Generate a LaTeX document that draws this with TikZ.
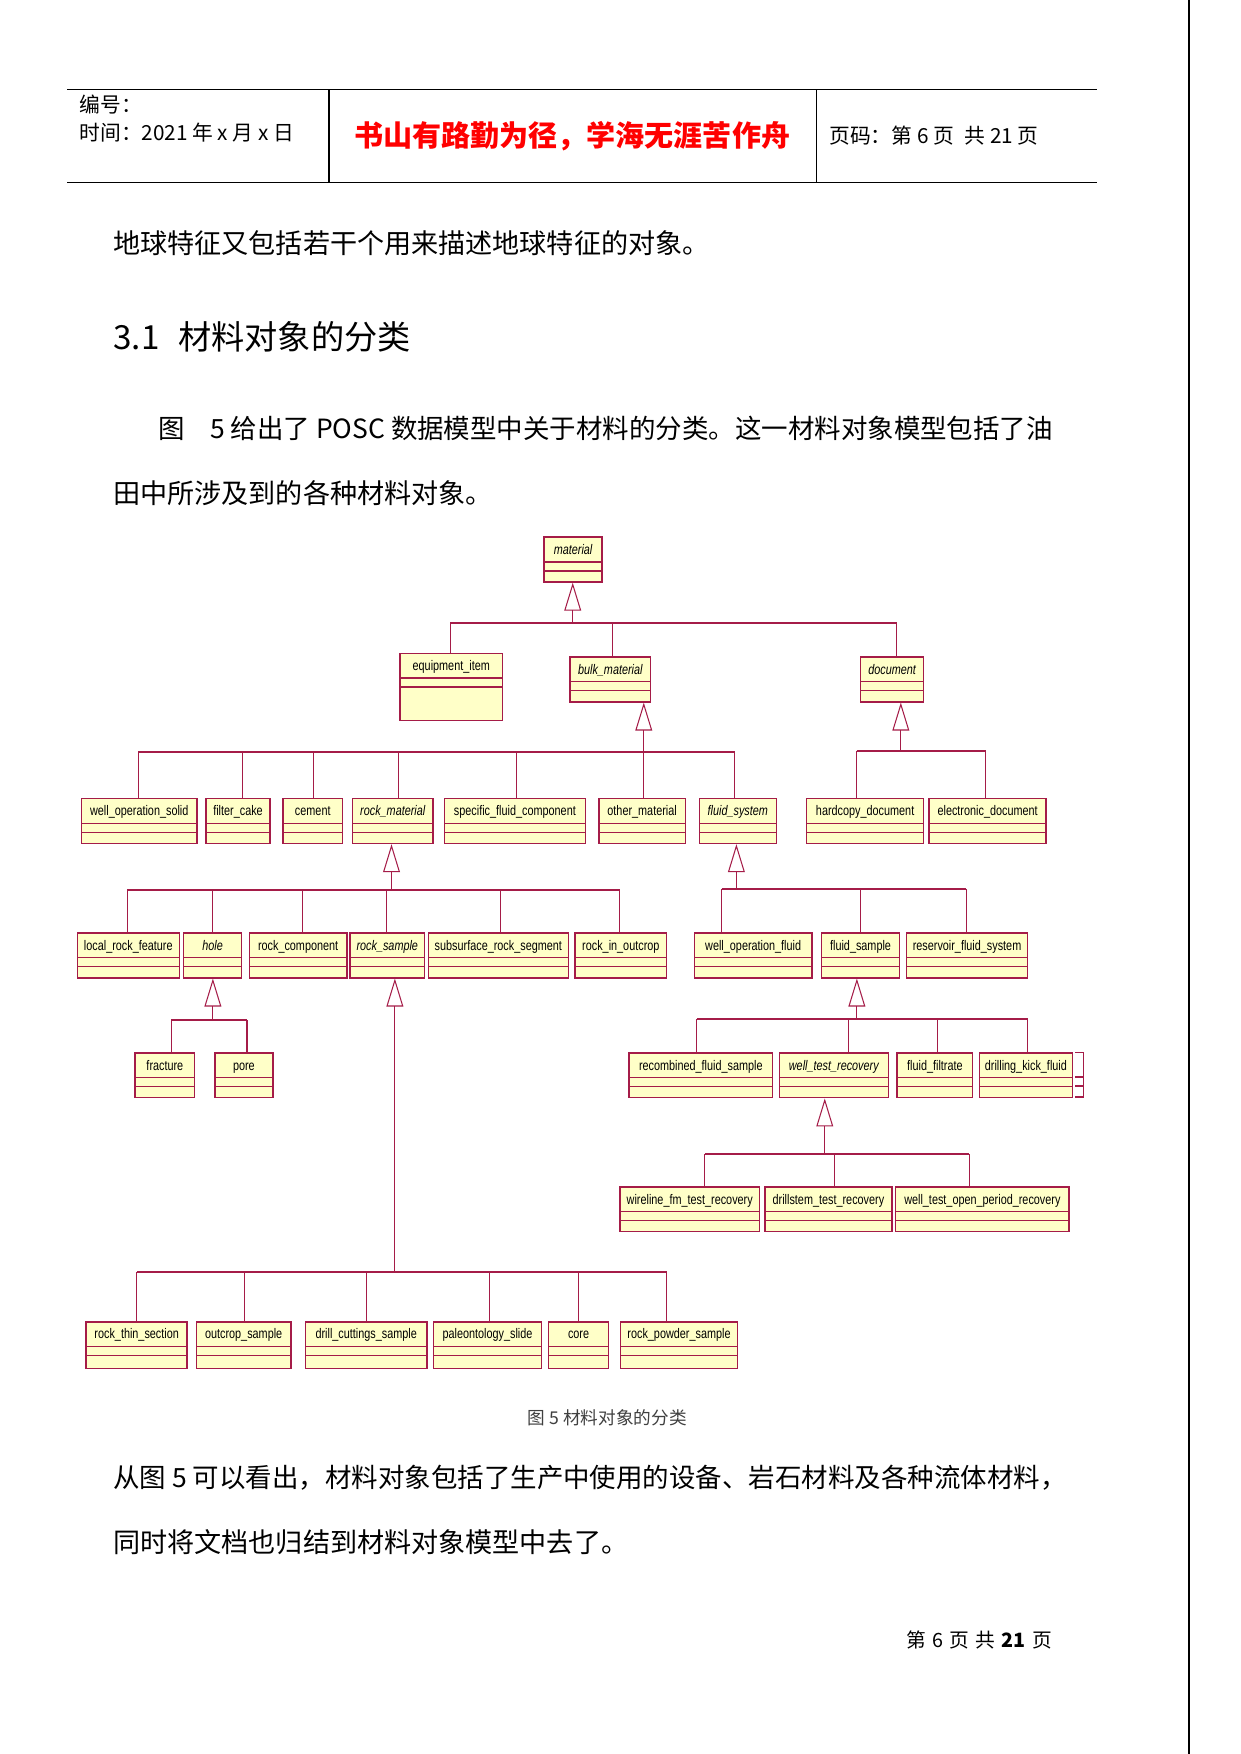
\documentclass[tikz,border=0pt]{standalone}
\usepackage{fontspec}
\usepackage{tikz}
\usetikzlibrary{arrows.meta, calc}

\newfontfamily\cjk{Noto Sans CJK SC}
\newfontfamily\umlfont[FakeStretch=0.78]{Liberation Sans}
\definecolor{umlred}{RGB}{165,28,72}
\definecolor{umlfill}{RGB}{255,255,200}
\newlength{\px}
\setlength{\px}{0.018929cm}

\begin{document}
\begin{tikzpicture}[
  x=\px, y=-\px,
  cls/.style = {draw=umlred, fill=umlfill, line width=0.7pt, anchor=north, inner sep=0pt,
    font=\umlfont\fontsize{6.7}{8}\selectfont, text height=8.2pt, text depth=13.34pt,
    path picture={\draw[umlred, line width=0.7pt]
      ($(path picture bounding box.north west)+(0,22)$) -- ($(path picture bounding box.north east)+(0,22)$)
      ($(path picture bounding box.north west)+(0,30)$) -- ($(path picture bounding box.north east)+(0,30)$);}},
  abstract/.style = {cls, font=\umlfont\itshape\fontsize{6.7}{8}\selectfont},
  tall/.style = {text depth=24.11pt},
  lowrow/.style = {text depth=14.13pt},
  bus/.style = {draw=umlred, line width=0.9pt},
  drop/.style = {draw=umlred, line width=0.5pt},
  gen/.style = {draw=umlred, line width=0.5pt, -{Triangle[open, length=0.473cm, width=0.284cm]}},
  body/.style = {anchor=west, inner sep=0pt, font=\cjk\fontsize{13.05}{15}\selectfont},
  mixed/.style = {body, font=\cjk\fontsize{12.75}{15}\selectfont},
  head/.style = {anchor=west, inner sep=0pt, font=\cjk\fontsize{10}{12}\selectfont}
]

  \fill[white] (0,0) rectangle (1109.4,1568);
  \useasboundingbox (0,0) rectangle (1109.4,1568);

  % page header
  \draw[line width=0.6pt] (60,79.8) -- (981,79.8) (60,163.2) -- (981,163.2)
    (294.2,79.8) -- (294.2,163.2) (730,79.8) -- (730,163.2);
  \draw[line width=1pt] (1062.6,0) -- (1062.6,1568);
  \node[head] (hno) at (70.7,93.8) {编号：};
  \node[head] (hdate) at (70.7,118.6) {时间：2021 年 x 月 x 日};
  \node[inner sep=0pt, text=red, font=\cjk\bfseries\fontsize{14}{16}\selectfont] (htitle) at (511.5,122.1) {书山有路勤为径，学海无涯苦作舟};
  \node[head] (hpage) at (741,121.6) {页码：第 6 页\hspace{3pt} 共 21 页};

  % text above the figure
  \node[body] (p1) at (101,217.4) {地球特征又包括若干个用来描述地球特征的对象。};
  \node[body, font=\cjk\fontsize{16}{19}\selectfont] (sec) at (101,301) {3.1\hspace{9pt}材料对象的分类};
  \node[mixed] (p2) at (141.5,382.7) {图\hspace{12pt}5 给出了 POSC 数据模型中关于材料的分类。这一材料对象模型包括了油};
  \node[body] (p3) at (101,440.9) {田中所涉及到的各种材料对象。};

  % classes
  \node[abstract, minimum width=52.1*\px] (mat) at (512.3,479.6) {material};

  \node[cls, tall, minimum width=91.6*\px] (eq) at (403.4,583.3) {equipment\_item};
  \node[abstract, minimum width=71.8*\px] (bm) at (545.6,586.8) {bulk\_material};
  \node[abstract, minimum width=56.3*\px] (doc) at (797.5,586.8) {document};

  \node[cls, minimum width=103.5*\px] (wos) at (124.5,713.4) {well\_operation\_solid};
  \node[cls, minimum width=57.5*\px] (fc) at (212.8,713.4) {filter\_cake};
  \node[cls, minimum width=53.2*\px] (cem) at (279.6,713.4) {cement};
  \node[abstract, minimum width=71.8*\px] (rm) at (351.1,713.4) {rock\_material};
  \node[cls, minimum width=126.3*\px] (sfc) at (460.3,713.4) {specific\_fluid\_component};
  \node[cls, minimum width=77.2*\px] (om) at (574,713.4) {other\_material};
  \node[abstract, minimum width=68.8*\px] (fs) at (659.6,713.4) {fluid\_system};
  \node[cls, minimum width=104.7*\px] (hd) at (773.4,713.4) {hardcopy\_document};
  \node[cls, minimum width=104.7*\px] (ed) at (882.9,713.4) {electronic\_document};

  \node[cls, minimum width=91.3*\px] (lrf) at (114.7,833.5) {local\_rock\_feature};
  \node[abstract, minimum width=52*\px] (hole) at (190,833.5) {hole};
  \node[cls, minimum width=87*\px] (rc) at (266.5,833.5) {rock\_component};
  \node[abstract, minimum width=66.4*\px] (rs) at (346.2,833.5) {rock\_sample};
  \node[cls, minimum width=125*\px] (srs) at (445.5,833.5) {subsurface\_rock\_segment};
  \node[cls, minimum width=82*\px] (rio) at (555,833.5) {rock\_in\_outcrop};
  \node[cls, minimum width=105.3*\px] (wof) at (673.3,833.5) {well\_operation\_fluid};
  \node[cls, minimum width=70*\px] (fsm) at (769.3,833.5) {fluid\_sample};
  \node[cls, minimum width=108.4*\px] (rfs) at (864.5,833.5) {reservoir\_fluid\_system};

  \node[cls, minimum width=53.2*\px] (fr) at (147.4,940.7) {fracture};
  \node[cls, minimum width=52*\px] (pore) at (218,940.7) {pore};
  \node[cls, minimum width=128.1*\px] (rfsm) at (626.5,940.7) {recombined\_fluid\_sample};
  \node[abstract, minimum width=97.6*\px] (wtr) at (745.4,940.7) {well\_test\_recovery};
  \node[cls, minimum width=67.6*\px] (ff) at (835.8,940.7) {fluid\_filtrate};
  \node[cls, minimum width=83.2*\px] (dkf) at (917.1,940.7) {drilling\_kick\_fluid};

  \node[cls, minimum width=125.1*\px] (wfm) at (616.6,1060.5) {wireline\_fm\_test\_recovery};
  \node[cls, minimum width=113.2*\px] (dst) at (740.6,1060.5) {drillstem\_test\_recovery};
  \node[cls, minimum width=155*\px] (wtop) at (878.2,1060.5) {well\_test\_open\_period\_recovery};

  \node[cls, lowrow, minimum width=90.3*\px] (rts) at (122.2,1181.1) {rock\_thin\_section};
  \node[cls, lowrow, minimum width=84.3*\px] (os) at (217.8,1181.1) {outcrop\_sample};
  \node[cls, lowrow, minimum width=108.3*\px] (dcs) at (327.4,1181.1) {drill\_cuttings\_sample};
  \node[cls, lowrow, minimum width=96.4*\px] (ps) at (435.8,1181.1) {paleontology\_slide};
  \node[cls, lowrow, minimum width=53.3*\px] (core) at (517.2,1181.1) {core};
  \node[cls, lowrow, minimum width=104.7*\px] (rps) at (607,1181.1) {rock\_powder\_sample};

  % loose bracket right of drilling_kick_fluid
  \draw[umlred, line width=0.7pt] ($(dkf.north east)+(2,0)$) -- ++(7,0) -- ++(0,40) -- ++(-7,0)
    ($(dkf.north east)+(2,22)$) -- ++(7,0) ($(dkf.north east)+(2,30)$) -- ++(7,0);

  % generalisation joints
  \coordinate (matj) at (512,557.1);
  \coordinate (bmj) at (575.5,672.6);
  \coordinate (docj) at (805.3,671.1);
  \coordinate (rmj) at (350,795.4);
  \coordinate (fsj) at (658.3,794.5);
  \coordinate (holej) at (190.3,911.6);
  \coordinate (rsj) at (353,1137);
  \coordinate (fsmj) at (766,911);
  \coordinate (wtrj) at (737.3,1031.6);

  \foreach \p/\j in {mat/matj, bm/bmj, doc/docj, rm/rmj, fs/fsj, hole/holej, rs/rsj, fsm/fsmj, wtr/wtrj}
    \draw[gen] (\j) -- (\p.south -| \j);

  \foreach \c/\j/\dx in {eq/matj/-0.9, bm/matj/1.8, doc/matj/4.2,
      wos/bmj/-0.9, fc/bmj/4.2, cem/bmj/0.8, rm/bmj/5.3, sfc/bmj/1.5, om/bmj/1.5, fs/bmj/-2.6,
      hd/docj/-7.6, ed/docj/-1.6,
      lrf/rmj/-1.1, hole/rmj/0.3, rc/rmj/4, rs/rmj/-0.9, srs/rmj/1.5, rio/rmj/-0.9,
      wof/fsj/-28.3, fsm/fsj/0.3, rfs/fsj/-0.9,
      fr/holej/5.6, pore/holej/2.8,
      rfsm/fsmj/-3.5, wtr/fsmj/12.8, ff/fsmj/2, dkf/fsmj/1.6,
      wfm/wtrj/13.6, dst/wtrj/5.7, wtop/wtrj/-11.6,
      rts/rsj/0.2, os/rsj/1, dcs/rsj/0.3, ps/rsj/2, core/rsj/0.2, rps/rsj/-11}
    \draw[drop] ($(\c.north)+(\dx,0)$) coordinate (\c-t) -- (\c-t |- \j);

  \draw[bus] (eq-t |- matj) -- (doc-t |- matj);
  \draw[bus] (wos-t |- bmj) -- (fs-t |- bmj);
  \draw[bus] (hd-t |- docj) -- (ed-t |- docj);
  \draw[bus] (lrf-t |- rmj) -- (rio-t |- rmj);
  \draw[bus] (wof-t |- fsj) -- (rfs-t |- fsj);
  \draw[bus] (fr-t |- holej) -- (pore-t |- holej);
  \draw[bus] (rts-t |- rsj) -- (rps-t |- rsj);
  \draw[bus] (rfsm-t |- fsmj) -- (dkf-t |- fsmj);
  \draw[bus] (wfm-t |- wtrj) -- (wtop-t |- wtrj);

  % caption and text below
  \node[inner sep=0pt, text=black!75, font=\cjk\fontsize{8.5}{11}\selectfont] (cap) at (542.9,1267.5) {图 5 材料对象的分类};
  \node[mixed] (p4) at (101,1321) {从图 5 可以看出，材料对象包括了生产中使用的设备、岩石材料及各种流体材料，};
  \node[body] (p5) at (101,1379) {同时将文档也归结到材料对象模型中去了。};
  \node[anchor=east, inner sep=0pt, font=\cjk\fontsize{9.5}{12}\selectfont] (foot) at (940.6,1466)
    {第\hspace{3pt}6\hspace{3pt}页\hspace{3pt}共\hspace{3pt}\textbf{21}\hspace{3pt}页};

\end{tikzpicture}
\end{document}
